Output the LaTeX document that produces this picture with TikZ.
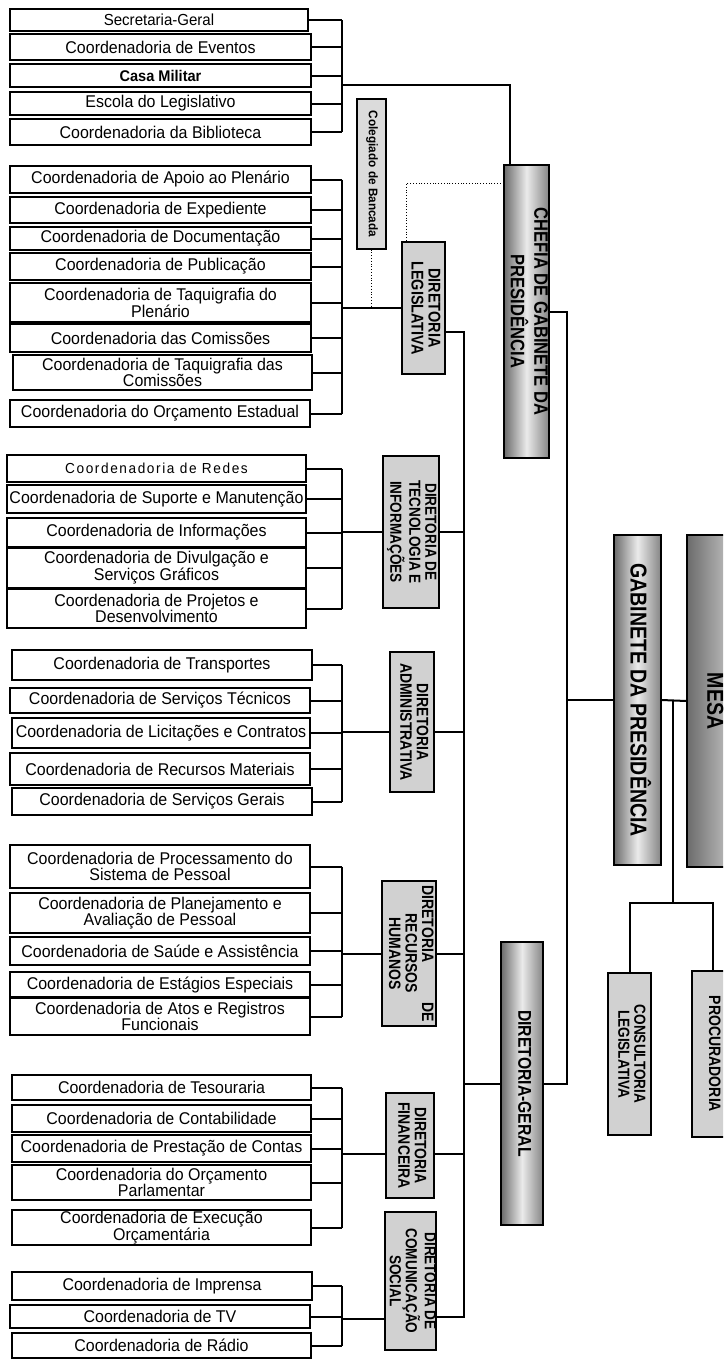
\documentclass[tikz,border=0pt]{standalone}
\usepackage{fontspec}
\setmainfont{Liberation Sans}[FakeStretch=0.94]
\newfontfamily\nar[FakeStretch=0.85]{Liberation Sans}
\newfontfamily\spaced[FakeStretch=0.94,LetterSpace=11]{Liberation Sans}
\usetikzlibrary{calc}

\tikzset{
  cbox/.style={draw, line width=1.1pt, fill=white, inner sep=1pt, align=center,
               font=\fontsize{17}{16}\selectfont},
  dbox/.style={draw, line width=1.1pt, fill=black!18, inner sep=0pt},
  gbox/.style={draw, line width=1.1pt, left color=black!58, right color=black!48,
               middle color=black!8, inner sep=0pt},
  conn/.style={line width=2pt},
  dotline/.style={line width=0.8pt, dotted},
}

\newcommand\bx[7]{\node[#1, minimum width={#5-#3}, minimum height={#6-#4}] (#2) at ({(#3+#5)/2},{(#4+#6)/2}) {#7};}
\newcommand\rt[2]{\rotatebox{-90}{#1\begin{tabular}{@{}c@{}}#2\end{tabular}}}
\newcommand\dfont[1]{\nar\bfseries\fontsize{#1}{#1}\selectfont}

\begin{document}
\begin{tikzpicture}[x=1pt,y=-1pt]
\useasboundingbox (0,0) rectangle (723,1360);
\clip (0,0) rectangle (723,1360);
\fill[white] (0,0) rectangle (723,1360);

% ---------- group 1 ----------
\bx{cbox,font=\fontsize{16}{16}\selectfont}{sg}{10}{9}{308}{31}{Secretaria-Geral}
\bx{cbox}{ev}{10}{34}{311}{60}{Coordenadoria de Eventos}
\bx{cbox,font=\bfseries\fontsize{15.5}{15}\selectfont}{cm}{10}{64}{311}{87}{Casa Militar}
\bx{cbox}{el}{10}{92}{311}{115}{Escola do Legislativo}
\bx{cbox}{bib}{10}{119}{311}{145}{Coordenadoria da Biblioteca}

% ---------- legislativa ----------
\bx{cbox}{ap}{10}{166}{311}{193}{Coordenadoria de Apoio ao Plenário}
\bx{cbox}{ex}{10}{197}{311}{223}{Coordenadoria de Expediente}
\bx{cbox}{doc}{10}{227}{311}{250}{Coordenadoria de Documentação}
\bx{cbox}{pub}{10}{253}{311}{280}{Coordenadoria de Publicação}
\bx{cbox}{tp}{10}{283}{311}{322}{Coordenadoria de Taquigrafia do\\Plenário}
\bx{cbox}{com}{10}{324}{311}{352}{Coordenadoria das Comissões}
\bx{cbox}{tc}{13}{355}{312}{390}{Coordenadoria de Taquigrafia das\\Comissões}
\bx{cbox}{oe}{10}{400}{310}{427}{Coordenadoria do Orçamento Estadual}

% ---------- tecnologia ----------
\bx{cbox,font=\spaced\fontsize{14.5}{14}\selectfont}{red}{7}{455}{306}{482}{Coordenadoria de Redes}
\bx{cbox}{sup}{7}{485}{306}{513}{Coordenadoria de Suporte e Manutenção}
\bx{cbox}{inf}{7}{518}{306}{547}{Coordenadoria de Informações}
\bx{cbox}{div}{7}{548}{306}{588}{Coordenadoria de Divulgação e\\Serviços Gráficos}
\bx{cbox}{proj}{7}{589}{306}{628}{Coordenadoria de Projetos e\\Desenvolvimento}

% ---------- administrativa ----------
\bx{cbox}{tra}{12}{650}{312}{680}{Coordenadoria de Transportes}
\bx{cbox}{stec}{10}{688}{310}{713}{Coordenadoria de Serviços Técnicos}
\bx{cbox}{lic}{12}{718}{310}{748}{Coordenadoria de Licitações e Contratos}
\bx{cbox}{rm}{10}{753}{310}{785}{Coordenadoria de Recursos Materiais}
\bx{cbox}{sger}{12}{788}{312}{815}{Coordenadoria de Serviços Gerais}

% ---------- recursos humanos ----------
\bx{cbox}{psp}{10}{845}{310}{888}{Coordenadoria de Processamento do\\Sistema de Pessoal}
\bx{cbox}{plan}{10}{893}{310}{933}{Coordenadoria de Planejamento e\\Avaliação de Pessoal}
\bx{cbox}{sau}{10}{937}{310}{965}{Coordenadoria de Saúde e Assistência}
\bx{cbox}{est}{10}{972}{310}{997}{Coordenadoria de Estágios Especiais}
\bx{cbox}{atos}{10}{998}{310}{1035}{Coordenadoria de Atos e Registros\\Funcionais}

% ---------- financeira ----------
\bx{cbox}{tes}{12}{1075}{311}{1100}{Coordenadoria de Tesouraria}
\bx{cbox}{cont}{12}{1105}{311}{1132}{Coordenadoria de Contabilidade}
\bx{cbox}{pc}{12}{1135}{311}{1162}{Coordenadoria de Prestação de Contas}
\bx{cbox}{op}{12}{1165}{311}{1200}{Coordenadoria do Orçamento\\Parlamentar}
\bx{cbox}{exe}{12}{1210}{311}{1245}{Coordenadoria de Execução\\Orçamentária}

% ---------- comunicacao ----------
\bx{cbox}{imp}{12}{1272}{312}{1300}{Coordenadoria de Imprensa}
\bx{cbox}{tv}{10}{1305}{310}{1328}{Coordenadoria de TV}
\bx{cbox}{rad}{12}{1333}{311}{1358}{Coordenadoria de Rádio}

% ---------- diretorias ----------
\bx{dbox,fill=black!14}{col}{357}{99}{386}{249}{\rt{\bfseries\fontsize{12.5}{12}\selectfont}{Colegiado de Bancada}}
\bx{dbox}{dleg}{402}{242}{445}{374}{\rt{\dfont{17}}{DIRETORIA\\LEGISLATIVA}}
\bx{dbox}{tec}{383}{456}{439}{608}{\rt{\dfont{16}}{DIRETORIA DE\\TECNOLOGIA E\\INFORMAÇÕES}}
\bx{dbox}{adm}{390}{652}{434}{792}{\rt{\dfont{16.5}}{DIRETORIA\\ADMINISTRATIVA}}
\bx{dbox}{rh}{382}{881}{436}{1026}{\rt{\dfont{16.5}}{DIRETORIA\hspace{40pt}DE\\RECURSOS\\HUMANOS}}
\bx{dbox}{fin}{386}{1093}{434}{1198}{\rt{\dfont{16.5}}{DIRETORIA\\FINANCEIRA}}
\bx{dbox}{comm}{386}{1212}{435}{1350}{\rt{\dfont{16}}{DIRETORIA DE\\COMUNICAÇÃO\\SOCIAL}}

\bx{gbox}{chefia}{504}{165}{549}{458}{\rt{\dfont{19.5}}{CHEFIA DE GABINETE DA\\PRESIDÊNCIA}}
\bx{gbox}{dg}{501}{942}{543}{1225}{\rt{\dfont{18.5}}{DIRETORIA-GERAL}}
\bx{gbox}{gab}{614}{535}{661}{865}{\rt{\dfont{23}}{GABINETE DA PRESIDÊNCIA}}
\bx{gbox,right color=black!20}{mesa}{687}{535}{737}{867}{\rt{\dfont{23}}{MESA}}
\bx{dbox}{cons}{608}{973}{651}{1135}{\rt{\dfont{16}}{CONSULTORIA\\LEGISLATIVA}}
\bx{dbox}{procur}{692}{971}{733}{1137}{\rt{\dfont{16.5}}{PROCURADORIA}}

% ---------- reference coordinates ----------
\coordinate (B) at (342,0);
\coordinate (M) at (464,0);
\coordinate (R) at (567,0);
\coordinate (J1) at (342,85);
\coordinate (c183) at (0,183);
\coordinate (J2) at (673,0);
\coordinate (H2) at (0,903);
\coordinate (dlegR) at ([yshift=-24pt]dleg.east);
\coordinate (admR) at ([yshift=-10pt]adm.east);
\coordinate (admL) at ([yshift=-10pt]adm.west);
\coordinate (finR) at ([yshift=-8pt]fin.east);
\coordinate (finL) at ([yshift=-8pt]fin.west);
\coordinate (commR) at ([yshift=-36pt]comm.east);
\coordinate (commL) at ([yshift=-38pt]comm.west);

% ---------- connectors: left groups ----------
\foreach \n in {sg,ev,cm,el,bib} \draw[conn] (\n.east) -- (\n.east -| B);
\draw[conn] (sg.east -| B) -- (bib.east -| B);
\draw[conn] (J1) -| ([xshift=7pt]chefia.north west);

\foreach \n in {ap,ex,doc,pub,tp,com,tc,oe} \draw[conn] (\n.east) -- (\n.east -| B);
\draw[conn] (ap.east -| B) -- (oe.east -| B);
\draw[conn] (dleg.west -| B) -- (dleg.west);

\foreach \n in {red,sup,inf,div,proj} \draw[conn] (\n.east) -- (\n.east -| B);
\draw[conn] (red.east -| B) -- (proj.east -| B);
\draw[conn] (tec.west -| B) -- (tec.west);

\foreach \n in {tra,stec,lic,rm,sger} \draw[conn] (\n.east) -- (\n.east -| B);
\draw[conn] (tra.east -| B) -- (sger.east -| B);
\draw[conn] (admL -| B) -- (admL);

\foreach \n in {psp,plan,sau,est,atos} \draw[conn] (\n.east) -- (\n.east -| B);
\draw[conn] (psp.east -| B) -- (atos.east -| B);
\draw[conn] (rh.west -| B) -- (rh.west);

\foreach \n in {tes,cont,pc,op,exe} \draw[conn] (\n.east) -- (\n.east -| B);
\draw[conn] (tes.east -| B) -- (exe.east -| B);
\draw[conn] (finL -| B) -- (finL);

\foreach \n in {imp,tv,rad} \draw[conn] (\n.east) -- (\n.east -| B);
\draw[conn] (imp.east -| B) -- (rad.east -| B);
\draw[conn] (commL -| B) -- (commL);

% ---------- dotted links ----------
\draw[dotline] (col.south) -- (col.south |- dleg.west);
\draw[dotline] (chefia.west |- c183) -| ([xshift=5pt]dleg.north west);

% ---------- main bus ----------
\draw[conn] (dlegR) -- (dlegR -| M) -- (commR -| M) -- (commR);
\draw[conn] (tec.east) -- (tec.east -| M);
\draw[conn] (admR) -- (admR -| M);
\draw[conn] (rh.east) -- (rh.east -| M);
\draw[conn] (finR) -- (finR -| M);
\draw[conn] (dg.west -| M) -- (dg.west);

% ---------- right side ----------
\draw[conn] (chefia.east) -- (chefia.east -| R) -- (dg.east -| R) -- (dg.east);
\draw[conn] (gab.west -| R) -- (gab.west);
\draw[conn] (gab.east) -- (mesa.west);
\draw[conn] (gab.east -| J2) -- (J2 |- H2);
\draw[conn] (cons.north) -- (cons.north |- H2) -- (procur.north |- H2) -- (procur.north);
\end{tikzpicture}
\end{document}
